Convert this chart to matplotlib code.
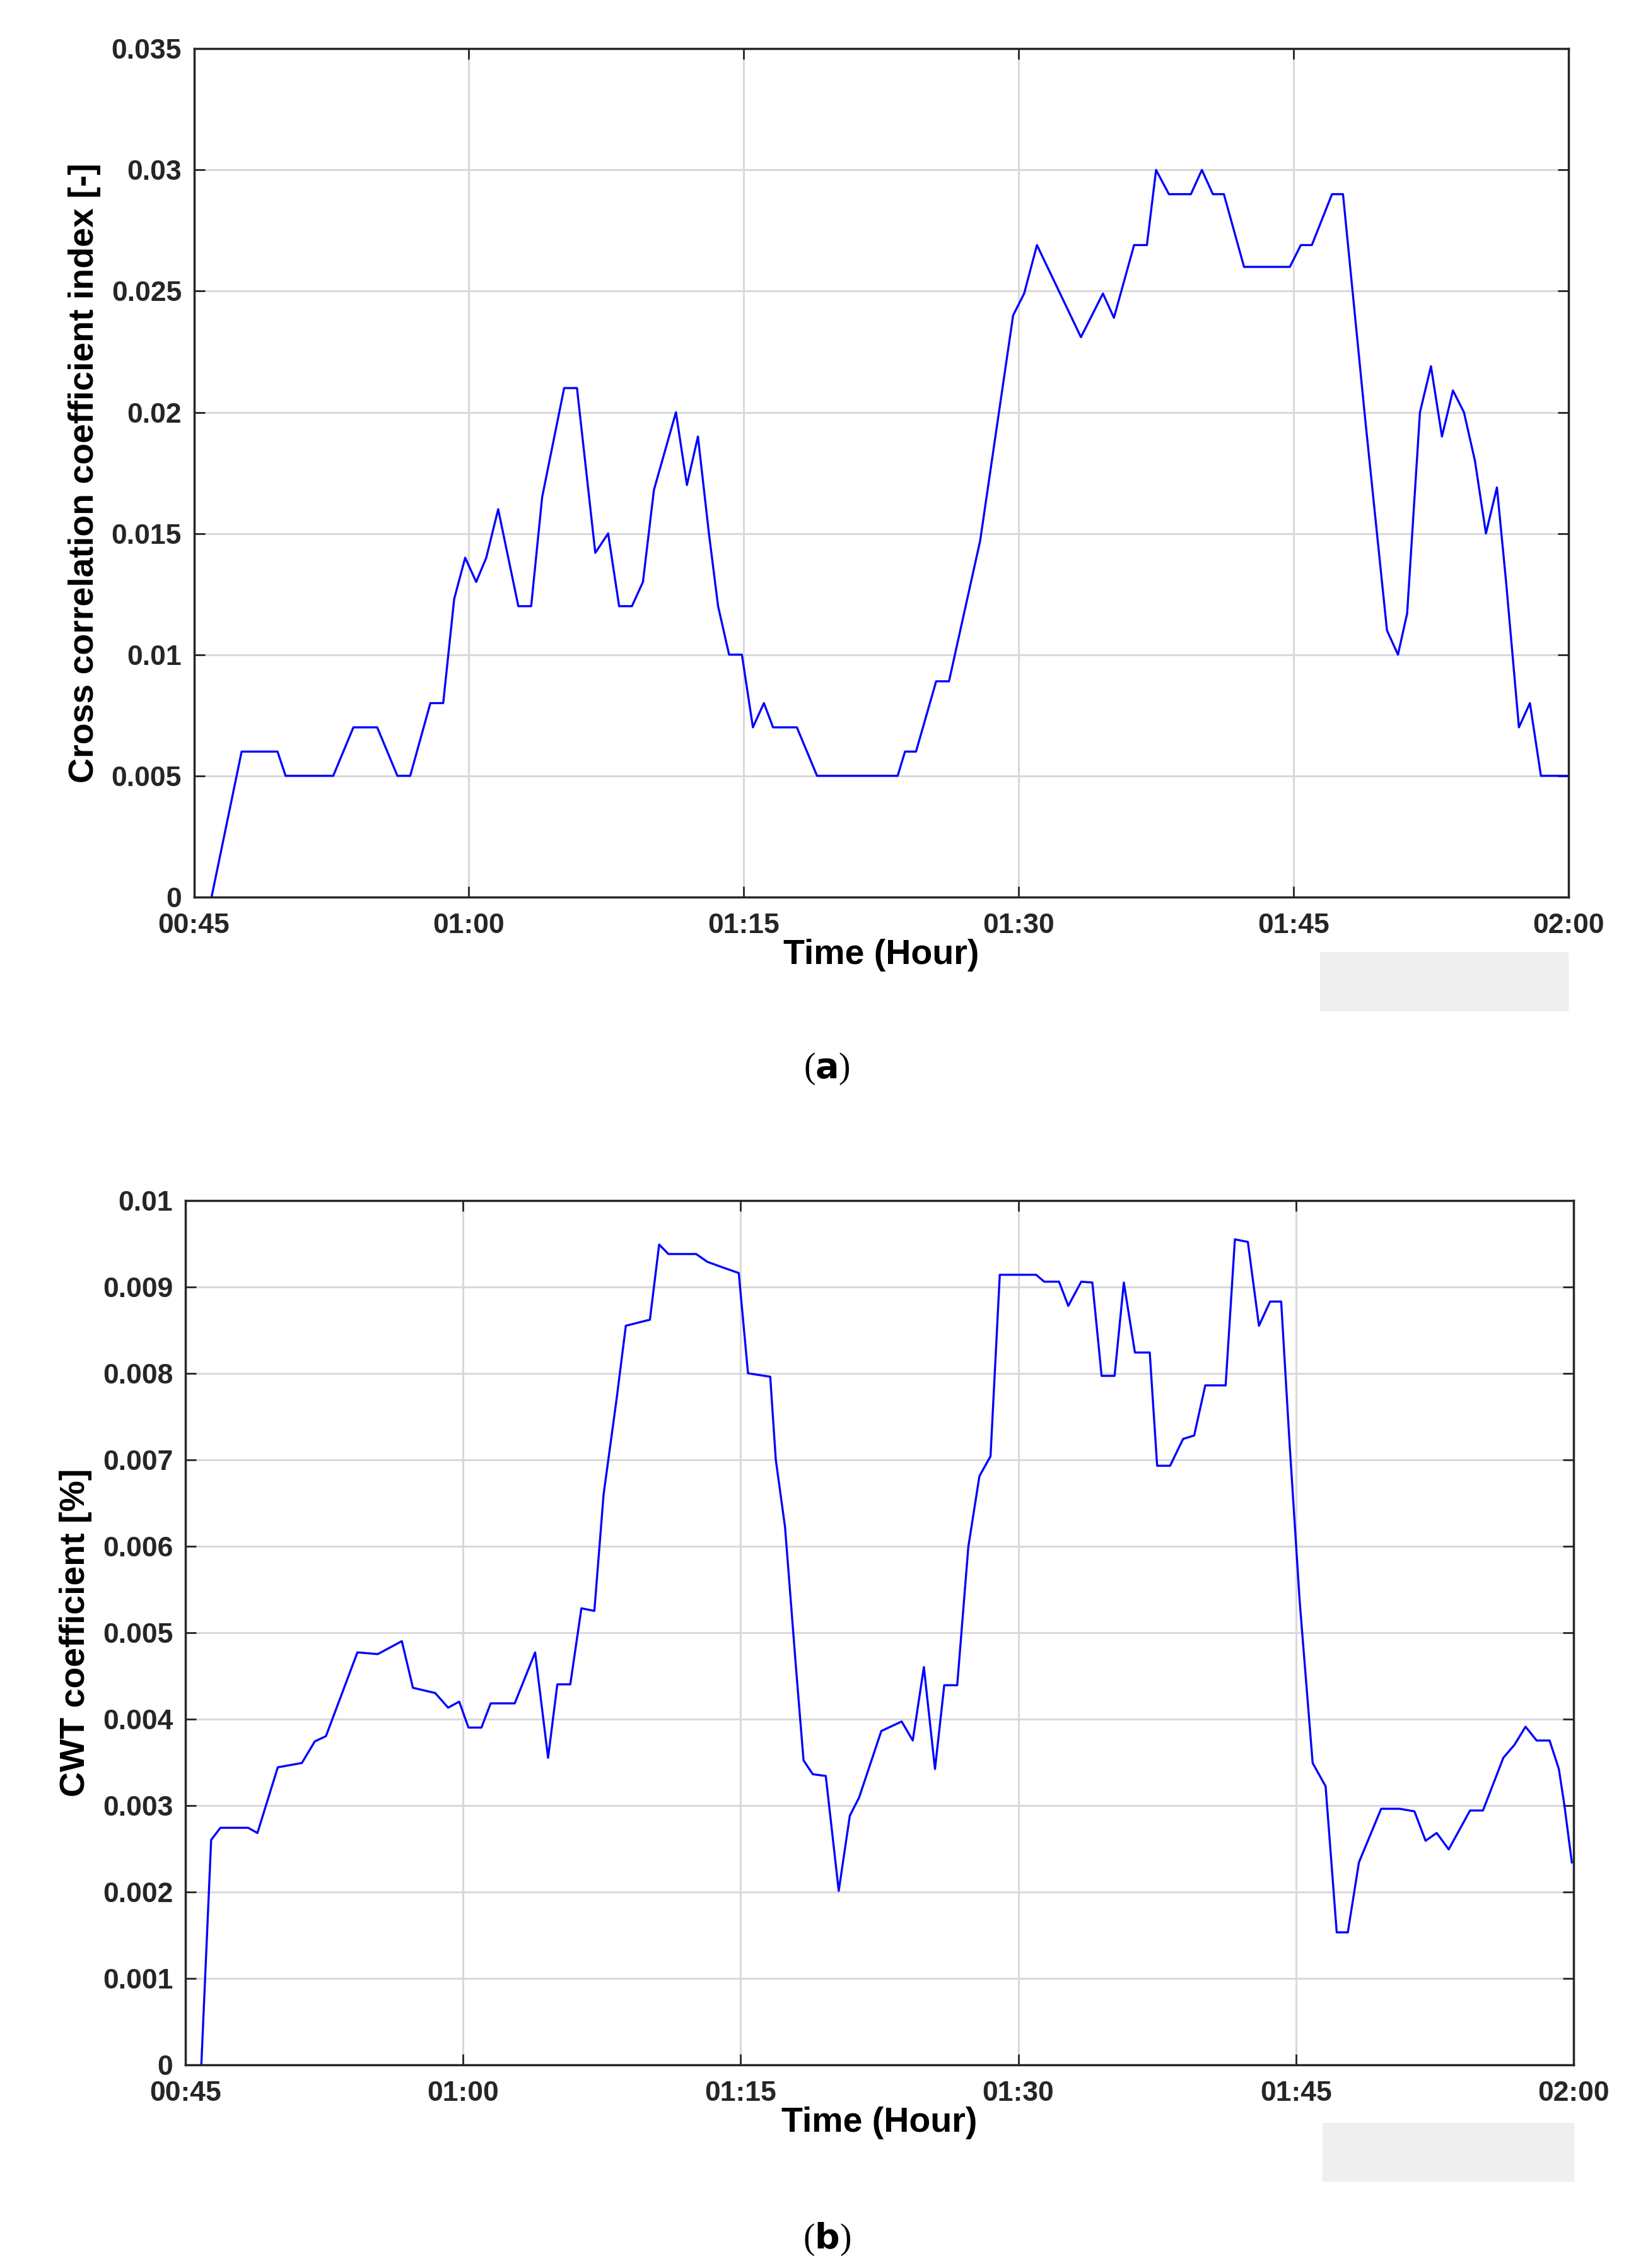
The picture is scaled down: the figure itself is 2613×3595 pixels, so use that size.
import matplotlib
matplotlib.use("Agg")
import matplotlib.pyplot as plt
from matplotlib.patches import Rectangle

plt.rcParams['font.family'] = ['Liberation Sans', 'DejaVu Sans']

tick_labels = ["00:45", "01:00", "01:15", "01:30", "01:45", "02:00"]
tick_minutes = [0, 15, 30, 45, 60, 75]

# panel (a): minutes after 00:45, cross correlation coefficient index
a_t = [0.96, 2.6, 4.56, 5.0, 7.6, 8.7, 10.0, 11.1, 11.8, 12.9, 13.6, 14.2, 14.8, 15.4, 15.95, 16.6,
       17.7, 18.4, 19.0, 20.2, 20.9, 21.9, 22.6, 23.2, 23.9, 24.5, 25.1, 26.3, 26.9, 27.5, 28.1,
       28.6, 29.2, 29.9, 30.5, 31.1, 31.6, 32.9, 34.0, 38.4, 38.8, 39.4, 40.5, 41.2, 42.9, 44.7,
       45.3, 46.0, 48.4, 49.6, 50.2, 51.3, 52.0, 52.5, 53.2, 54.4, 55.0, 55.6, 56.2, 57.3, 59.8,
       60.4, 61.0, 62.1, 62.7, 63.9, 65.1, 65.7, 66.2, 66.9, 67.5, 68.1, 68.7, 69.3, 69.9, 70.5,
       71.1, 71.6, 72.3, 72.9, 73.5, 75.0]
a_v = [0.0, 0.006, 0.006, 0.005, 0.005, 0.007, 0.007, 0.005, 0.005, 0.008, 0.008, 0.0123, 0.014,
       0.013, 0.014, 0.016, 0.012, 0.012, 0.0165, 0.021, 0.021, 0.0142, 0.015, 0.012, 0.012, 0.013,
       0.0168, 0.020, 0.017, 0.019, 0.015, 0.012, 0.010, 0.010, 0.007, 0.008, 0.007, 0.007, 0.005,
       0.005, 0.006, 0.006, 0.0089, 0.0089, 0.0147, 0.024, 0.0249, 0.0269, 0.0231, 0.0249, 0.0239,
       0.0269, 0.0269, 0.030, 0.029, 0.029, 0.030, 0.029, 0.029, 0.026, 0.026, 0.0269, 0.0269,
       0.029, 0.029, 0.0198, 0.011, 0.010, 0.0117, 0.020, 0.0219, 0.019, 0.0209, 0.020, 0.018,
       0.015, 0.0169, 0.013, 0.007, 0.008, 0.005, 0.005]

# panel (b): minutes after 00:45, CWT coefficient
b_t = [0.87, 1.4, 1.9, 3.4, 3.9, 5.0, 6.3, 7.0, 7.6, 9.3, 10.4, 11.7, 12.3, 13.5, 14.2, 14.8, 15.3,
       16.0, 16.5, 17.8, 18.9, 19.6, 20.1, 20.8, 21.4, 22.1, 22.6, 23.3, 23.8, 25.1, 25.6, 26.1,
       27.6, 28.2, 29.1, 29.9, 30.4, 31.6, 31.9, 32.4, 33.0, 33.4, 33.9, 34.6, 35.3, 35.9, 36.4,
       37.6, 38.7, 39.3, 39.9, 40.5, 41.0, 41.7, 42.3, 42.9, 43.5, 44.0, 45.96, 46.4, 47.2, 47.7,
       48.4, 49.0, 49.5, 50.2, 50.7, 51.3, 52.1, 52.5, 53.2, 53.9, 54.5, 55.1, 56.2, 56.7, 57.4,
       58.0, 58.6, 59.2, 59.65, 60.2, 60.9, 61.6, 62.2, 62.8, 63.4, 64.6, 65.6, 66.4, 67.0, 67.6,
       68.25, 69.4, 70.1, 71.2, 71.8, 72.4, 73.0, 73.7, 74.2, 74.5, 74.9]
b_v = [0.0, 0.0026, 0.00274, 0.00274, 0.00268, 0.00344, 0.00349, 0.00374, 0.0038, 0.00477, 0.00475,
       0.0049, 0.00436, 0.0043, 0.00413, 0.0042, 0.0039, 0.0039, 0.00418, 0.00418, 0.00477, 0.00355,
       0.0044, 0.0044, 0.00528, 0.00525, 0.0066, 0.0077, 0.00855, 0.00862, 0.00949, 0.00938,
       0.00938, 0.00929, 0.00922, 0.00916, 0.008, 0.00796, 0.007, 0.00622, 0.00457, 0.00352,
       0.00336, 0.00334, 0.00201, 0.00288, 0.00309, 0.00386, 0.00397, 0.00375, 0.0046, 0.00342,
       0.00439, 0.00439, 0.00599, 0.00681, 0.00704, 0.00914, 0.00914, 0.00906, 0.00906, 0.00878,
       0.00906, 0.00905, 0.00797, 0.00797, 0.00905, 0.00824, 0.00824, 0.00693, 0.00693, 0.00724,
       0.00728, 0.00786, 0.00786, 0.00955, 0.00952, 0.00855, 0.00883, 0.00883, 0.0072, 0.00536,
       0.00349, 0.00322, 0.00153, 0.00153, 0.00234, 0.00296, 0.00296, 0.00293, 0.00259, 0.00268,
       0.00249, 0.00294, 0.00294, 0.00355, 0.0037, 0.00391, 0.00375, 0.00375, 0.00342, 0.003,
       0.00234]

a_yticks = [0, 0.005, 0.01, 0.015, 0.02, 0.025, 0.03, 0.035]
a_ylabels = ["0", "0.005", "0.01", "0.015", "0.02", "0.025", "0.03", "0.035"]
b_yticks = [i / 1000 for i in range(11)]
b_ylabels = ["0"] + ["0.%03d" % i for i in range(1, 10)] + ["0.01"]

fig = plt.figure(figsize=(26.13, 35.95), dpi=100)

def setup(ax, t, v, yt, yl, ylim, ylabel):
    ax.plot(t, v, color="#0000ff", lw=2.4)
    ax.set_xlim(0, 75)
    ax.set_ylim(*ylim)
    ax.set_xticks(tick_minutes)
    ax.set_xticklabels(tick_labels)
    ax.set_yticks(yt)
    ax.set_yticklabels(yl)
    ax.grid(True, color="#d9d9d9", lw=2.2)
    ax.tick_params(direction="in", length=12, width=2, top=True, right=True, labelsize=32,
                   color="#262626")
    ax.tick_params(axis="x", pad=18)
    ax.tick_params(axis="y", pad=14)
    for lab in ax.get_xticklabels() + ax.get_yticklabels():
        lab.set_fontweight("bold")
        lab.set_color("#262626")
    for s in ax.spines.values():
        s.set_color("#262626")
        s.set_linewidth(2.5)
    ax.set_xlabel("Time (Hour)", fontsize=40, fontweight="bold", labelpad=0)
    ax.set_ylabel(ylabel, fontsize=40, fontweight="bold", labelpad=12)

ax1 = fig.add_axes([0.1177, 0.6045, 0.834, 0.374])
setup(ax1, a_t, a_v, a_yticks, a_ylabels, (0, 0.035), "Cross correlation coefficient index [-]")
ax2 = fig.add_axes([0.1124, 0.0897, 0.8425, 0.381])
setup(ax2, b_t, b_v, b_yticks, b_ylabels, (0, 0.01), "CWT coefficient [%]")

fig.patches.append(Rectangle((905 / 1130, 1 - 695 / 1560), 170 / 1130, 40 / 1560,
                             transform=fig.transFigure, color="#efefef", zorder=0))
fig.patches.append(Rectangle((907 / 1130, 1 - 1500 / 1560), 172 / 1130, 40 / 1560,
                             transform=fig.transFigure, color="#efefef", zorder=0))

for ypos, letter in [(735, "a"), (1540, "b")]:
    fig.text(567 / 1130, 1 - ypos / 1560, r"($\mathbf{%s}$)" % letter, ha="center", va="center",
             fontsize=40, family="Liberation Serif")

fig.savefig("out.png", dpi=100)
